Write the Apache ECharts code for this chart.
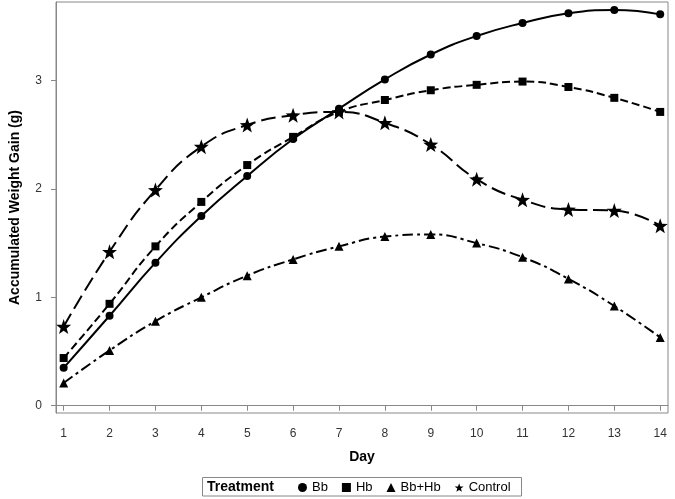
<!DOCTYPE html>
<html><head><meta charset="utf-8">
<script src="https://cdn.jsdelivr.net/npm/echarts@6/dist/echarts.min.js"></script>
<style>html,body{margin:0;padding:0;background:#fff}#c{width:675px;height:499px}</style>
</head><body><div id="c"></div>
<script>
const days = [1,2,3,4,5,6,7,8,9,10,11,12,13,14];
const yTicks = [0,1,2,3];
const seriesNames = ['Bb','Hb','Bb+Hb','Control'];
const bb      = [0.35,0.83,1.32,1.75,2.12,2.46,2.74,3.01,3.24,3.41,3.53,3.62,3.65,3.61];
const hb      = [0.44,0.94,1.47,1.88,2.22,2.48,2.71,2.82,2.91,2.96,2.99,2.94,2.84,2.71];
const bbhb    = [0.21,0.51,0.78,1.00,1.20,1.35,1.47,1.56,1.58,1.50,1.37,1.17,0.92,0.63];
const control = [0.73,1.42,1.99,2.39,2.59,2.68,2.71,2.61,2.41,2.09,1.90,1.81,1.80,1.66];

const star = 'path://M0,-10L2.35,-3.24L9.51,-3.09L3.8,1.24L5.88,8.09L0,4.1L-5.88,8.09L-3.8,1.24L-9.51,-3.09L-2.35,-3.24Z';
const font = 'Arial, "Liberation Sans", sans-serif';
const pair = arr => days.map((d,i)=>[d,arr[i]]);

const chart = echarts.init(document.getElementById('c'));
const mk = (name, data, symbol, size, dash) => ({
  name, type:'line', data: pair(data), smooth:true, symbol, symbolSize:size,
  itemStyle:{color:'#000'}, lineStyle:{color:'#000', width:2, type:dash},
  animation:false, z: 3
});
chart.setOption({
  animation:false,
  grid:{left:52, right:7, top:2, bottom:86, show:true, borderColor:'#888', borderWidth:1},
  xAxis:{type:'value', min:0.833, max:14.17, name:'Day', nameLocation:'middle', nameGap:37,
    nameTextStyle:{fontFamily:font, fontWeight:'bold', fontSize:14, color:'#000'},
    axisLine:{show:true, lineStyle:{color:'#888'}},
    axisTick:{show:true, length:5, customValues:days, lineStyle:{color:'#888'}},
    axisLabel:{customValues:days, fontFamily:font, fontSize:12, color:'#333', margin:15},
    splitLine:{show:false}},
  yAxis:{type:'value', min:-0.067, max:3.724, name:'Accumulated Weight Gain (g)', nameLocation:'middle', nameGap:34,
    nameTextStyle:{fontFamily:font, fontWeight:'bold', fontSize:14, color:'#000'},
    axisLine:{show:true, lineStyle:{color:'#888'}},
    axisTick:{show:true, length:5, customValues:yTicks, lineStyle:{color:'#888'}},
    axisLabel:{customValues:yTicks, fontFamily:font, fontSize:12, color:'#333', margin:14},
    splitLine:{show:false}},
  legend:{left:298, top:481, padding:0, itemWidth:9, itemHeight:9, itemGap:14,
    textStyle:{fontFamily:font, fontSize:13, color:'#000'},
    data:[{name:seriesNames[0], icon:'circle'},{name:seriesNames[1], icon:'rect'},
          {name:seriesNames[2], icon:'triangle'},{name:seriesNames[3], icon:star}]},
  graphic:[
    {type:'rect', shape:{x:202.5, y:477.5, width:319, height:18.5}, style:{fill:'none', stroke:'#888', lineWidth:1}},
    {type:'text', left:207, top:480, style:{text:'Treatment', font:'bold 14px '+font, fill:'#000'}}
  ],
  series:[
    mk(seriesNames[0], bb, 'circle', 8, 'solid'),
    mk(seriesNames[1], hb, 'rect', 8, [8,4]),
    mk(seriesNames[2], bbhb, 'triangle', 9, [11,4,3,4]),
    mk(seriesNames[3], control, star, 15, [15,6])
  ]
});
</script></body></html>
